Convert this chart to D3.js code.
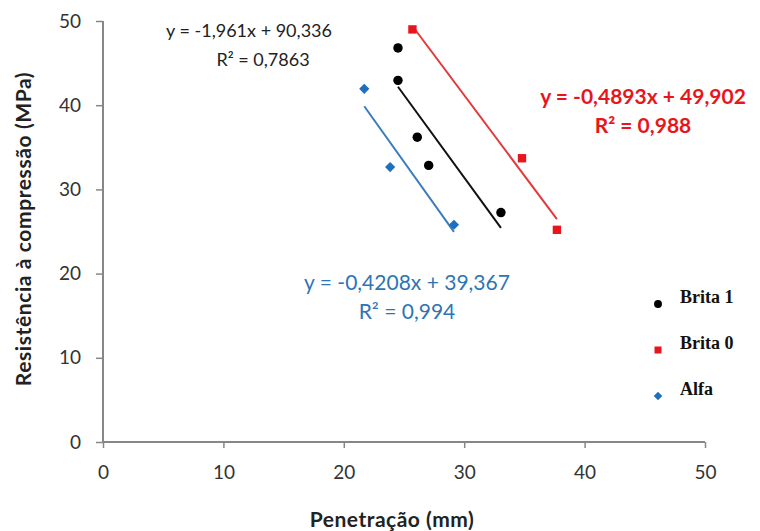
<!DOCTYPE html>
<html>
<head>
<meta charset="utf-8">
<script src="https://cdn.jsdelivr.net/npm/d3@7"></script>
<style>
  html, body { margin: 0; padding: 0; background: #fff; }
  svg { display: block; }
</style>
</head>
<body>
<svg id="chart" width="760" height="531"></svg>
<script>
// Penetration (mm) vs compressive strength (MPa) for three aggregates
const seriesNames = ["Brita 1", "Brita 0", "Alfa"];
const brita1X = [24.5, 24.5, 26.1, 27.05, 33.05];
const brita1Y = [46.8, 42.95, 36.2, 32.85, 27.25];
const brita0X = [25.7, 34.8, 37.7];
const brita0Y = [49.0, 33.7, 25.2];
const alfaX = [21.7, 23.85, 29.15];
const alfaY = [41.95, 32.65, 25.8];
const equations = [
  "y = -1,961x + 90,336",
  "y = -0,4893x + 49,902",
  "y = -0,4208x + 39,367"
];
const rSquared = ["R² = 0,7863", "R² = 0,988", "R² = 0,994"];
const xTicks = [0, 10, 20, 30, 40, 50];
const yTicks = [0, 10, 20, 30, 40, 50];
const xTitle = "Penetração (mm)";
const yTitle = "Resistência à compressão (MPa)";

const colors = ["#000000", "#e8161c", "#1f6fbf"];
const lineColors = ["#111111", "#e23a3a", "#3b7cbc"];

const svg = d3.select("#chart");
const margin = { left: 103, right: 55, top: 21, bottom: 89 };
const W = 760, H = 531;

const x = d3.scaleLinear().domain([0, 50]).range([margin.left, W - margin.right]);
const y = d3.scaleLinear().domain([0, 50]).range([H - margin.bottom, margin.top]);

const sansFont = "Lato, 'Open Sans', sans-serif";
const axisColor = "#878787";

// Axes
const xAxis = d3.axisBottom(x).tickValues(xTicks).tickSize(6).tickPadding(18);
const yAxis = d3.axisLeft(y).tickValues(yTicks).tickSize(7).tickPadding(15);

const gx = svg.append("g").attr("transform", `translate(0,${y(0)})`).call(xAxis);
const gy = svg.append("g").attr("transform", `translate(${x(0)},0)`).call(yAxis);

[gx, gy].forEach(g => {
  g.select(".domain").attr("stroke", axisColor).attr("stroke-width", 2);
  g.selectAll(".tick line").attr("stroke", axisColor).attr("stroke-width", 1.5);
  g.selectAll(".tick text")
    .attr("fill", "#333")
    .style("font-family", sansFont)
    .style("font-size", "19px");
});
gx.select(".domain").attr("d", `M${x(0)},0H${x(50)}`);
gy.select(".domain").attr("d", `M0,${y(0)}V${y(50)}`);

// Axis titles
svg.append("text")
  .attr("x", 392)
  .attr("y", 527)
  .attr("text-anchor", "middle")
  .attr("fill", "#222")
  .style("font-family", sansFont)
  .style("font-weight", "bold")
  .style("font-size", "21px")
  .style("letter-spacing", "0.5px")
  .text(xTitle);

svg.append("text")
  .attr("transform", `translate(31,229) rotate(-90)`)
  .attr("text-anchor", "middle")
  .attr("fill", "#222")
  .style("font-family", sansFont)
  .style("font-weight", "bold")
  .style("font-size", "21px")
  .style("letter-spacing", "0.6px")
  .text(yTitle);

// Series table
const series = [
  { name: seriesNames[0], xs: brita1X, ys: brita1Y, shape: d3.symbolCircle, size: 70, rot: 0 },
  { name: seriesNames[1], xs: brita0X, ys: brita0Y, shape: d3.symbolSquare, size: 70, rot: 0 },
  { name: seriesNames[2], xs: alfaX, ys: alfaY, shape: d3.symbolSquare, size: 52, rot: 45 }
];

// Least-squares trend line over the data range
function fit(xs, ys) {
  const mx = d3.mean(xs), my = d3.mean(ys);
  const sxy = d3.sum(xs, (v, i) => (v - mx) * (ys[i] - my));
  const sxx = d3.sum(xs, v => (v - mx) * (v - mx));
  const b = sxy / sxx;
  return { slope: b, intercept: my - b * mx };
}

series.forEach((s, i) => {
  const f = fit(s.xs, s.ys);
  const [x0, x1] = d3.extent(s.xs);
  svg.append("line")
    .attr("x1", x(x0)).attr("y1", y(f.slope * x0 + f.intercept))
    .attr("x2", x(x1)).attr("y2", y(f.slope * x1 + f.intercept))
    .attr("stroke", lineColors[i])
    .attr("stroke-width", 2);
});

series.forEach((s, i) => {
  svg.append("g").selectAll("path")
    .data(s.xs.map((v, j) => [v, s.ys[j]]))
    .join("path")
    .attr("transform", d => `translate(${x(d[0])},${y(d[1])}) rotate(${s.rot})`)
    .attr("d", d3.symbol().type(s.shape).size(s.size))
    .attr("fill", colors[i]);
});

// Trend equations
const eqPos = [
  { x: 249, y: 37, dx: 14, color: "#222", weight: "normal", size: 18 },
  { x: 643, y: 104, dx: 0, color: "#e8161c", weight: "bold", size: 21 },
  { x: 407, y: 290, dx: 0, color: "#2e74b5", weight: "normal", size: 21 }
];
eqPos.forEach((p, i) => {
  const t = svg.append("text")
    .attr("text-anchor", "middle")
    .attr("fill", p.color)
    .style("font-family", sansFont)
    .style("font-weight", p.weight)
    .style("font-size", p.size + "px");
  t.append("tspan").attr("x", p.x).attr("y", p.y).text(equations[i]);
  t.append("tspan").attr("x", p.x + p.dx).attr("y", p.y + 29).text(rSquared[i]);
});

// Legend
const legend = svg.append("g").attr("transform", "translate(658,304)");
series.forEach((s, i) => {
  const row = legend.append("g").attr("transform", `translate(0,${i * 46})`);
  row.append("path")
    .attr("transform", `rotate(${s.rot})`)
    .attr("d", d3.symbol().type(s.shape).size(s.size * 0.7))
    .attr("fill", colors[i]);
  row.append("text")
    .attr("x", 22).attr("y", -1)
    .attr("fill", "#111")
    .style("font-family", "'Liberation Serif', 'Times New Roman', serif")
    .style("font-weight", "bold")
    .style("font-size", "18px")
    .text(s.name);
});
</script>
</body>
</html>
